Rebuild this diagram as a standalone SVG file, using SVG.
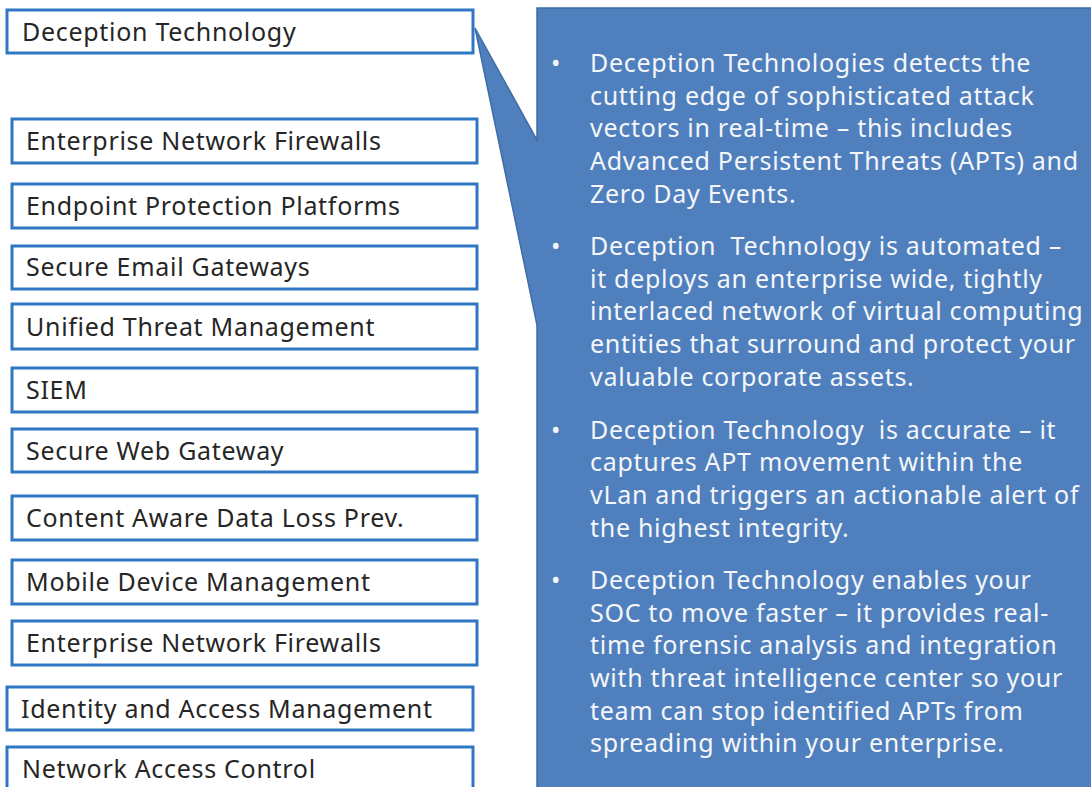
<svg xmlns="http://www.w3.org/2000/svg" width="1091" height="787" viewBox="0 0 1091 787">
  <style>
    .box rect { fill: #ffffff; stroke: #2f77c3; stroke-width: 3; }
    .box text { font-family: "Noto Sans", "Open Sans", "DejaVu Sans", sans-serif; font-size: 25px; letter-spacing: 0.7px; fill: #262626; }
    .callout path { fill: #4f80bd; stroke: #3d6ca6; stroke-width: 1.5; stroke-linejoin: miter; }
    .callout text { font-family: "Noto Sans", "Open Sans", "DejaVu Sans", sans-serif; font-size: 25px; letter-spacing: 0.7px; fill: #f4f6fa; white-space: pre; }
  </style>
  <rect width="1091" height="787" fill="#ffffff"/>

  <!-- speech-bubble panel pointing at the first product box -->
  <g id="callout" class="callout">
    <path d="M537,8 H1100 V800 H537 V325 L475,28 L537,140 Z"/>
    <text x="551" y="72">•</text>
    <text x="590" y="72">Deception Technologies detects the</text>
    <text x="590" y="105">cutting edge of sophisticated attack</text>
    <text x="590" y="137">vectors in real-time – this includes</text>
    <text x="590" y="170">Advanced Persistent Threats (APTs) and</text>
    <text x="590" y="203">Zero Day Events.</text>

    <text x="551" y="255">•</text>
    <text x="590" y="255">Deception  Technology is automated –</text>
    <text x="590" y="288">it deploys an enterprise wide, tightly</text>
    <text x="590" y="320">interlaced network of virtual computing</text>
    <text x="590" y="353">entities that surround and protect your</text>
    <text x="590" y="386">valuable corporate assets.</text>

    <text x="551" y="439">•</text>
    <text x="590" y="439">Deception Technology  is accurate – it</text>
    <text x="590" y="471">captures APT movement within the</text>
    <text x="590" y="504">vLan and triggers an actionable alert of</text>
    <text x="590" y="537">the highest integrity.</text>

    <text x="551" y="589">•</text>
    <text x="590" y="589">Deception Technology enables your</text>
    <text x="590" y="622">SOC to move faster – it provides real-</text>
    <text x="590" y="654">time forensic analysis and integration</text>
    <text x="590" y="687">with threat intelligence center so your</text>
    <text x="590" y="720">team can stop identified APTs from</text>
    <text x="590" y="752">spreading within your enterprise.</text>
  </g>

  <!-- product boxes -->
  <g id="deception-technology" class="box"><rect x="7" y="10" width="466" height="43"/><text x="22" y="41">Deception Technology</text></g>
  <g id="enterprise-network-firewalls-1" class="box"><rect x="12" y="119" width="465" height="44"/><text x="26" y="150">Enterprise Network Firewalls</text></g>
  <g id="endpoint-protection-platforms" class="box"><rect x="12" y="184" width="465" height="44"/><text x="26" y="215">Endpoint Protection Platforms</text></g>
  <g id="secure-email-gateways" class="box"><rect x="12" y="246" width="465" height="43"/><text x="26" y="276">Secure Email Gateways</text></g>
  <g id="unified-threat-management" class="box"><rect x="12" y="304" width="465" height="45"/><text x="26" y="336">Unified Threat Management</text></g>
  <g id="siem" class="box"><rect x="12" y="368" width="465" height="44"/><text x="26" y="399">SIEM</text></g>
  <g id="secure-web-gateway" class="box"><rect x="12" y="429" width="465" height="43"/><text x="26" y="460">Secure Web Gateway</text></g>
  <g id="content-aware-dlp" class="box"><rect x="12" y="496" width="465" height="44"/><text x="26" y="527">Content Aware Data Loss Prev.</text></g>
  <g id="mobile-device-management" class="box"><rect x="12" y="560" width="465" height="44"/><text x="26" y="591">Mobile Device Management</text></g>
  <g id="enterprise-network-firewalls-2" class="box"><rect x="12" y="621" width="465" height="44"/><text x="26" y="652">Enterprise Network Firewalls</text></g>
  <g id="identity-access-management" class="box"><rect x="7" y="687" width="466" height="43"/><text x="21" y="718">Identity and Access Management</text></g>
  <g id="network-access-control" class="box"><rect x="7" y="747" width="466" height="60"/><text x="22" y="778">Network Access Control</text></g>

  <!-- no connectors besides the callout pointer -->
  <g id="connectors"/>
</svg>
